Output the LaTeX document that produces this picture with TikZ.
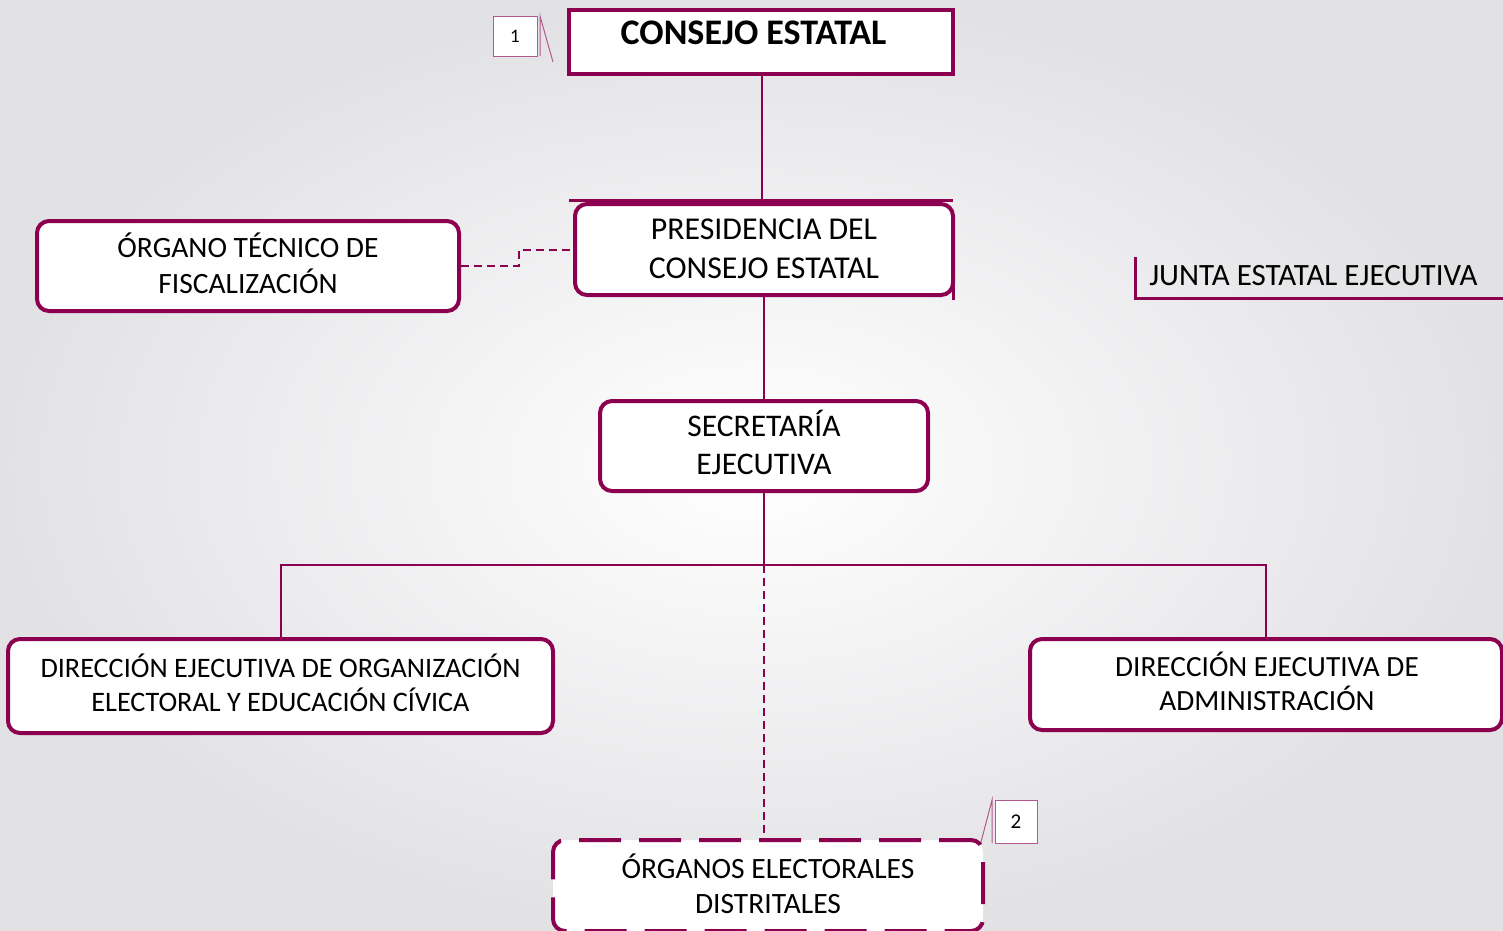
\documentclass[tikz,border=0pt]{standalone}
\usepackage{fontspec}
\setmainfont{Carlito}
\definecolor{mar}{RGB}{140,0,80}
\definecolor{bgout}{RGB}{226,226,229}
\begin{document}
\begin{tikzpicture}[x=1pt,y=-1pt,
  box/.style={draw=mar, line width=4pt, fill=white, rounded corners=12pt, inner sep=0pt},
  sharpbox/.style={draw=mar, line width=4pt, fill=white, inner sep=0pt},
  txt/.style={align=center, inner sep=0pt},
  conn/.style={draw=mar, line width=2pt},
  dconn/.style={draw=mar, line width=2pt, dash pattern=on 8pt off 5pt},
  tag/.style={draw=mar!65, line width=1pt, fill=white, inner sep=0pt, align=center},
  tagline/.style={draw=mar!65, line width=1pt}]
\shade[inner color=white, outer color=bgout] (0,0) rectangle (1503,930);
\useasboundingbox (0,0) rectangle (1503,930);

% top box
\node[sharpbox, minimum width=384pt, minimum height=64pt] (consejo) at (761,42) {};
\node[txt, font=\bfseries\fontsize{36}{40}\selectfont] (consejoT) at (753.5,33) {CONSEJO ESTATAL};
\coordinate (bar) at (762,200);
\draw[conn] (consejo.south -| bar) -- (bar);
\coordinate (barL) at (569,200);
\coordinate (barR) at (953,200);
\draw[draw=mar, line width=3pt] (barL) -- (barR);

% presidencia
\node[box, minimum width=378pt, minimum height=91pt] (pres) at (764,249.5) {};
\node[txt, font=\fontsize{31.8}{39}\selectfont] (presT) at ([yshift=1pt]pres.center) {PRESIDENCIA DEL\\CONSEJO ESTATAL};
\draw[draw=mar, line width=3pt] ([xshift=-2pt]pres.east) -- ([xshift=-2pt,yshift=-50pt]pres.east);

% organo tecnico
\node[box, minimum width=422pt, minimum height=90pt] (tec) at (248,266) {};
\node[txt, font=\fontsize{29.5}{36}\selectfont] (tecT) at ([yshift=3pt]tec.center) {ÓRGANO TÉCNICO DE\\FISCALIZACIÓN};
\draw[dconn] (tec.east) -- ++(58,0) |- (pres.west);

% secretaria
\node[box, minimum width=328pt, minimum height=90pt] (sec) at (764,446) {};
\node[txt, font=\fontsize{31.5}{38}\selectfont] (secT) at ([yshift=4pt]sec.center) {SECRETARÍA\\EJECUTIVA};
\draw[conn] (pres.south) -- (sec.north);

% junta
\node[txt, font=\fontsize{31}{34}\selectfont] (junta) at (1313.5,276) {JUNTA ESTATAL EJECUTIVA};
\coordinate (jtop) at (1135,257);
\coordinate (jcorner) at (1135,298);
\coordinate (jend) at (1503,298);
\draw[draw=mar, line width=3pt] (jtop) -- (jcorner) -- (jend);

% direcciones
\node[box, minimum width=545pt, minimum height=94pt] (dirL) at (280.5,686) {};
\node[txt, font=\fontsize{28.2}{34}\selectfont] (dirLT) at ([yshift=3pt]dirL.center) {DIRECCIÓN EJECUTIVA DE ORGANIZACIÓN\\ELECTORAL Y EDUCACIÓN CÍVICA};
\node[box, minimum width=472pt, minimum height=91pt] (dirR) at (1266,684.5) {};
\node[txt, font=\fontsize{29.3}{34}\selectfont] (dirRT) at ([yshift=3pt,xshift=1pt]dirR.center) {DIRECCIÓN EJECUTIVA DE\\ADMINISTRACIÓN};
\coordinate (j) at (764,565);
\draw[conn] (sec.south) -- (j);
\draw[conn] (dirL.north) |- (j) -| (dirR.north);

% organos electorales
\node[box, dash pattern=on 42pt off 18pt, dash phase=10pt, minimum width=430pt, minimum height=91pt] (org) at (768,885.5) {};
\node[txt, font=\fontsize{29.5}{35}\selectfont] (orgT) at ([yshift=2pt]org.center) {ÓRGANOS ELECTORALES\\DISTRITALES};
\draw[dconn] (j) -- (j |- org.north);

% tags
\node[tag, minimum width=44pt, minimum height=40pt, font=\fontsize{19}{20}\selectfont] (t1) at (515,36) {1};
\coordinate (t1a) at (540,16);
\coordinate (t1b) at (540,56);
\coordinate (t1c) at (553,62);
\draw[tagline] (t1b) -- (t1a) -- (t1c);

\node[tag, minimum width=42pt, minimum height=43pt, font=\fontsize{21}{24}\selectfont] (t2) at (1016,821.5) {2};
\coordinate (t2a) at (992,800);
\coordinate (t2b) at (992,843);
\coordinate (t2c) at (981,842);
\draw[tagline] (t2b) -- (t2a) -- (t2c);
\end{tikzpicture}
\end{document}
